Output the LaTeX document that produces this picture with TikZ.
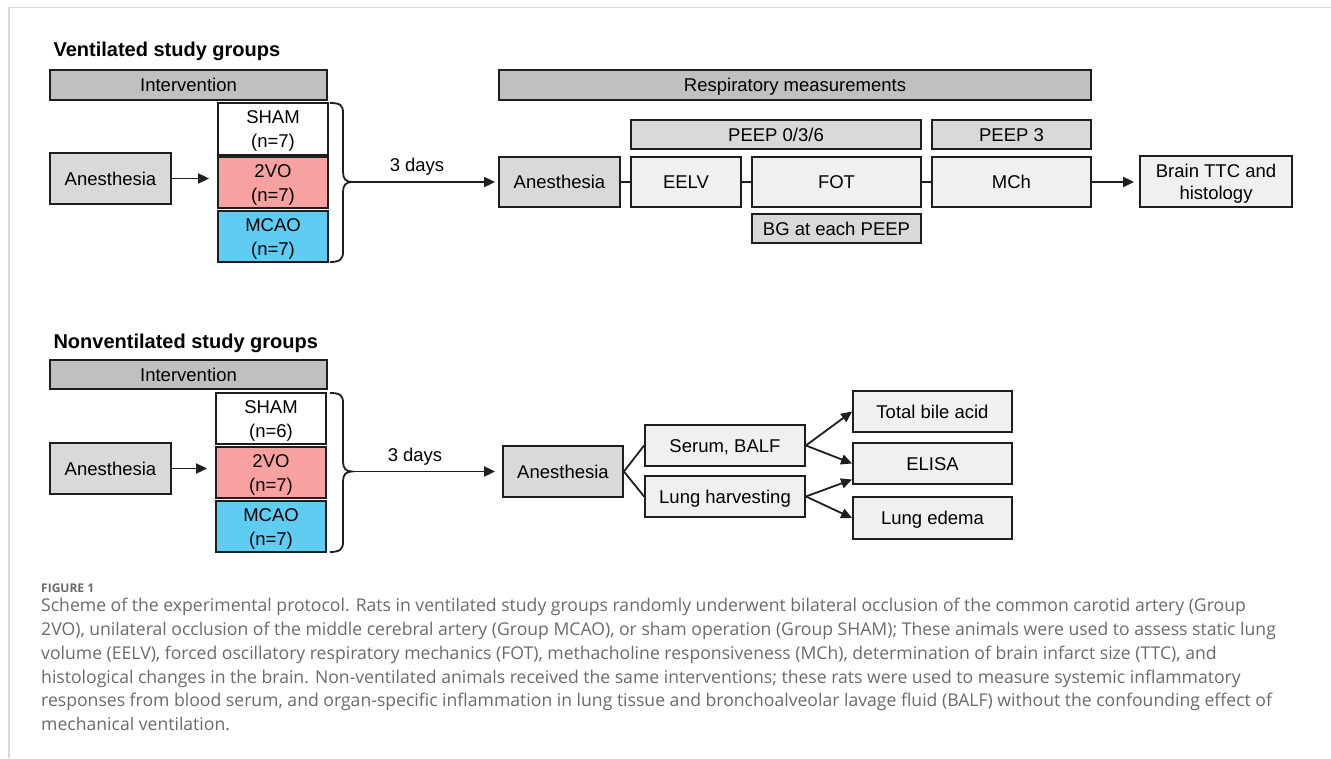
\documentclass[tikz,border=0pt]{standalone}
\usepackage{fontspec}
\setmainfont{Liberation Sans}
\newfontfamily\capfont{Open Sans}
\usetikzlibrary{arrows.meta,calc}
\definecolor{bord}{HTML}{1E1E1E}
\definecolor{darkbar}{HTML}{C0C0C0}
\definecolor{midgray}{HTML}{D9D9D9}
\definecolor{lightbox}{HTML}{F0F0F0}
\definecolor{pinkvo}{HTML}{F7A2A1}
\definecolor{bluemc}{HTML}{5FCDF1}
\definecolor{framecol}{HTML}{D8D8D8}
\definecolor{captxt}{HTML}{6A6A6A}
\begin{document}
\begin{tikzpicture}[x=1pt,y=-1pt,
  box/.style={draw=bord, line width=1.8pt, inner sep=0pt, align=center,
    font=\fontsize{18.5}{24}\selectfont, text height=13.3pt, text depth=0pt},
  two/.style={text height=37.3pt, text depth=0pt},
  barbox/.style={box, fill=darkbar},
  graybox/.style={box, fill=midgray},
  litebox/.style={box, fill=lightbox},
  conn/.style={draw=bord, line width=1.8pt},
  arr/.style={conn, -{Triangle[length=11pt,width=10pt]}},
  ttl/.style={anchor=base west, font=\bfseries\fontsize{20}{24}\selectfont},
  lbl/.style={font=\fontsize{18.5}{22}\selectfont},
  capline/.style={anchor=base west, text=captxt, inner sep=0pt,
    font=\capfont\fontsize{17.6}{24}\selectfont}]
\useasboundingbox (0,0) rectangle (1331,758);
% frame
\draw[framecol, line width=1.5pt] (9,758) -- (9,7.5) -- (1331,7.5);

% ===== Ventilated =====
\node[ttl] (t1) at (50,56) {Ventilated study groups};
\node[barbox, minimum width=277pt, minimum height=30pt] (int1) at (188.5,85) {Intervention};
\node[graybox, minimum width=121pt, minimum height=51pt] (anes1) at (110.5,178.5) {Anesthesia};
\node[box, two, fill=white, minimum width=110pt, minimum height=52pt] (sham1) at (273,129) {SHAM\\(n=7)};
\node[box, two, fill=pinkvo, minimum width=110pt, minimum height=51pt] (vo1) at (273,182.5) {2VO\\(n=7)};
\node[box, two, fill=bluemc, minimum width=110pt, minimum height=51pt] (mcao1) at (273,236.5) {MCAO\\(n=7)};
\draw[arr, shorten >=8pt] (anes1.east) -- (anes1.east -| vo1.west);
\coordinate (b1) at (352,182);
\draw[conn] (330,103) .. controls (340,103) and (343,105) .. (343,113) -- (343,172)
  .. controls (343,179) and (346,182) .. (b1)
  .. controls (346,182) and (343,185) .. (343,192) -- (343,252)
  .. controls (343,259) and (340,262) .. (330,262);
\node[lbl] (d1) at (417,167) {3 days};

\node[barbox, minimum width=592pt, minimum height=30pt] (resp) at (795,85) {Respiratory measurements};
\node[graybox, minimum width=290pt, minimum height=29pt] (p036) at (776,134.5) {PEEP 0/3/6};
\node[graybox, minimum width=159pt, minimum height=29pt] (p3) at (1011.5,134.5) {PEEP 3};
\node[graybox, minimum width=121pt, minimum height=50pt] (anes2) at (559.5,182) {Anesthesia};
\node[litebox, minimum width=110pt, minimum height=50pt] (eelv) at (686,182) {EELV};
\node[litebox, minimum width=169pt, minimum height=50pt] (fot) at (836.5,182) {FOT};
\node[litebox, minimum width=159pt, minimum height=50pt] (mch) at (1011.5,182) {MCh};
\node[litebox, minimum width=152pt, minimum height=51pt, font=\fontsize{18.5}{22}\selectfont,
  text height=35.3pt, text depth=0pt] (brain) at (1216,181.5) {Brain TTC and\\histology};
\node[graybox, minimum width=169pt, minimum height=29pt] (bg) at (836.5,228.5) {BG at each PEEP};
\draw[arr, shorten >=3pt] (b1) -- (b1 -| anes2.west);
\draw[conn] (anes2.east) -- (eelv.west);
\draw[conn] (eelv.east) -- (fot.west);
\draw[conn] (fot.east) -- (mch.west);
\draw[arr, shorten >=5pt] (mch.east) -- (mch.east -| brain.west);

% ===== Nonventilated =====
\node[ttl] (t2) at (50,348) {Nonventilated study groups};
\node[barbox, minimum width=277pt, minimum height=29pt] (int2) at (188.5,374.5) {Intervention};
\node[graybox, minimum width=121pt, minimum height=51pt] (anes3) at (110.5,468.5) {Anesthesia};
\node[box, two, fill=white, minimum width=110pt, minimum height=51pt] (sham2) at (271,418.5) {SHAM\\(n=6)};
\node[box, two, fill=pinkvo, minimum width=110pt, minimum height=51pt] (vo2) at (271,472.5) {2VO\\(n=7)};
\node[box, two, fill=bluemc, minimum width=110pt, minimum height=51pt] (mcao2) at (271,526.5) {MCAO\\(n=7)};
\draw[arr, shorten >=8pt] (anes3.east) -- (anes3.east -| vo2.west);
\coordinate (b2) at (352,471.5);
\draw[conn] (330,393) .. controls (340,393) and (343,395) .. (343,403) -- (343,461.5)
  .. controls (343,468.5) and (346,471.5) .. (b2)
  .. controls (346,471.5) and (343,474.5) .. (343,481.5) -- (343,542)
  .. controls (343,549) and (340,552) .. (330,552);
\node[lbl] (d2) at (415,457) {3 days};

\node[graybox, minimum width=120pt, minimum height=51pt] (anes4) at (563,471.5) {Anesthesia};
\node[litebox, minimum width=160pt, minimum height=41pt] (serum) at (725,445.5) {Serum, BALF};
\node[litebox, minimum width=160pt, minimum height=41pt] (lung) at (725,496.5) {Lung harvesting};
\node[litebox, minimum width=159pt, minimum height=41pt] (bile) at (932.5,411.5) {Total bile acid};
\node[litebox, minimum width=159pt, minimum height=41pt] (elisa) at (932.5,463.5) {ELISA};
\node[litebox, minimum width=159pt, minimum height=42pt] (edema) at (932.5,518) {Lung edema};
\draw[arr, shorten >=7pt] (b2) -- (b2 -| anes4.west);
\draw[conn] (anes4.east) -- (serum.west);
\draw[conn] (anes4.east) -- (lung.west);
\draw[arr] (serum.east) -- (bile.west);
\draw[arr] (serum.east) -- (elisa.west);
\draw[arr] (lung.east) -- ($(elisa.west)+(0,16)$);
\draw[arr] (lung.east) -- (edema.west);

% ===== Caption =====
\node[anchor=base west, text=captxt, inner sep=0pt, font=\capfont\bfseries\fontsize{12}{16}\selectfont] (fig) at (41,592) {FIGURE 1};
\node[capline] (c1) at (41,611) {Scheme of the experimental protocol. Rats in ventilated study groups randomly underwent bilateral occlusion of the common carotid artery (Group};
\node[capline] (c2) at (41,635) {2VO), unilateral occlusion of the middle cerebral artery (Group MCAO), or sham operation (Group SHAM); These animals were used to assess static lung};
\node[capline] (c3) at (41,659) {volume (EELV), forced oscillatory respiratory mechanics (FOT), methacholine responsiveness (MCh), determination of brain infarct size (TTC), and};
\node[capline] (c4) at (41,683) {histological changes in the brain. Non-ventilated animals received the same interventions; these rats were used to measure systemic inflammatory};
\node[capline] (c5) at (41,706) {responses from blood serum, and organ-specific inflammation in lung tissue and bronchoalveolar lavage fluid (BALF) without the confounding effect of};
\node[capline] (c6) at (41,730) {mechanical ventilation.};
\end{tikzpicture}
\end{document}
